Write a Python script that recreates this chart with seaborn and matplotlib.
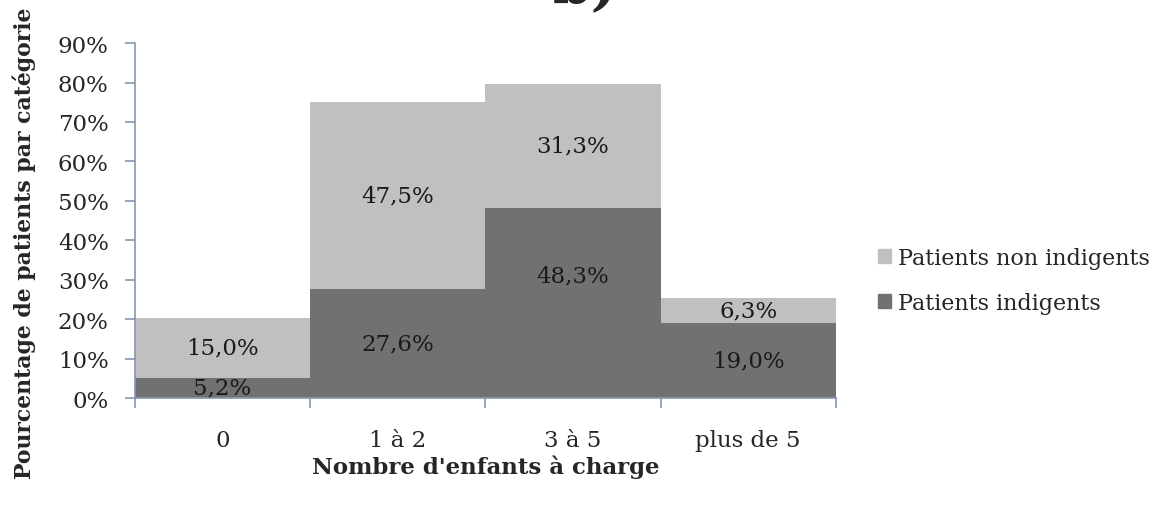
import numpy as np
import pandas as pd
import seaborn as sns
import matplotlib.pyplot as plt
from matplotlib.patches import Patch

# données
categories = ['0', '1 à 2', '3 à 5', 'plus de 5']
indigents = [5.2, 27.6, 48.3, 19.0]
non_indigents = [15.0, 47.5, 31.3, 6.3]

sns.set_style('white')
plt.rcParams['font.family'] = ['DejaVu Serif']

df = pd.DataFrame({'cat': categories,
                   'indigents': np.array(indigents) / 100,
                   'non_indigents': np.array(non_indigents) / 100})
df['total'] = df['indigents'] + df['non_indigents']

clair = '#c0c0c0'
fonce = '#717171'
axe = '#8497b0'

fig = plt.figure(figsize=(11.64, 5.10), dpi=100)
ax = fig.add_axes([0.116, 0.2176, 0.602, 0.696])

sns.barplot(data=df, x='cat', y='total', color=clair, width=1, saturation=1,
            linewidth=0, ax=ax)
sns.barplot(data=df, x='cat', y='indigents', color=fonce, width=1, saturation=1,
            linewidth=0, ax=ax)

# étiquettes
for i, row in df.iterrows():
    ax.text(i, row['indigents'] / 2 + (0.07 if i == 2 else 0),
            f"{indigents[i]:.1f}%".replace('.', ','),
            ha='center', va='center', fontsize=16.5, color='#1a1a1a')
    ax.text(i, row['indigents'] + row['non_indigents'] / 2,
            f"{non_indigents[i]:.1f}%".replace('.', ','),
            ha='center', va='center', fontsize=16.5, color='#1a1a1a')

ax.set_xlim(-0.5, 3.5)
ax.set_ylim(0, 0.9)
ax.set_yticks(np.arange(0, 0.91, 0.1))
ax.set_yticklabels([f"{int(v)}%" for v in np.arange(0, 91, 10)])
ax.set_xticks(np.arange(-0.5, 3.6, 1))
ax.set_xticklabels([])
ax.set_xticks(range(len(categories)), minor=True)
ax.set_xticklabels(categories, minor=True)
ax.tick_params(axis='x', which='minor', length=0, pad=22, labelsize=16.5)
ax.tick_params(axis='x', which='major', length=7, width=1.2, color=axe, direction='out')
ax.tick_params(axis='y', length=7, width=1.2, color=axe, direction='out', labelsize=16.5, pad=12)
ax.tick_params(bottom=True, left=True)

for s in ['top', 'right']:
    ax.spines[s].set_visible(False)
for s in ['left', 'bottom']:
    ax.spines[s].set_color(axe)
    ax.spines[s].set_linewidth(1.2)

ax.set_xlabel("Nombre d'enfants à charge", fontsize=16.5, fontweight='bold', labelpad=3)
ax.set_ylabel('Pourcentage de patients par catégorie', fontsize=15.8, fontweight='bold')
ax.yaxis.set_label_coords(-0.142, 0.44)

handles = [Patch(color=clair, label='Patients non indigents'),
           Patch(color=fonce, label='Patients indigents')]
fig.legend(handles=handles, loc='center left', bbox_to_anchor=(0.737, 0.448),
           frameon=False, fontsize=16, handlelength=0.6, handleheight=0.6,
           handletextpad=0.3, labelspacing=1.05)

fig.text(0.503, 1.025, 'b)', ha='center', va='center', fontsize=40, fontweight='bold')

fig.savefig('out.png', dpi=100)
